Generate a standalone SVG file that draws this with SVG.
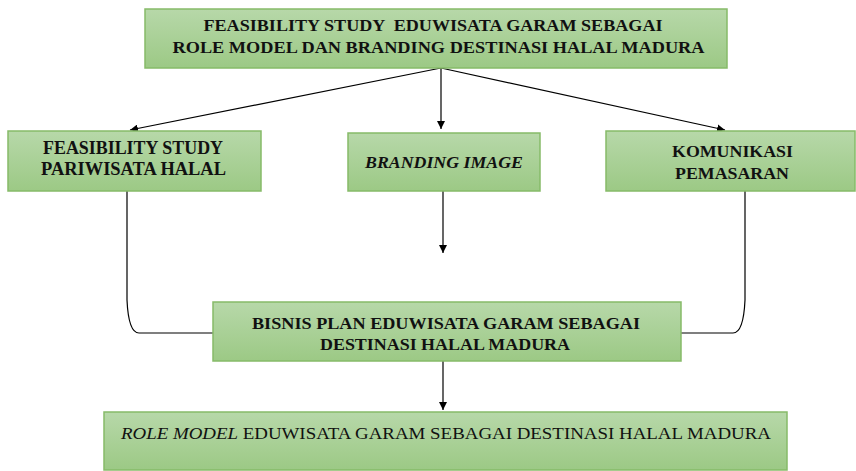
<svg xmlns="http://www.w3.org/2000/svg" width="856" height="471" viewBox="0 0 856 471">
<defs>
<linearGradient id="g" x1="0" y1="0" x2="0" y2="1">
<stop offset="0" stop-color="#b7d8a9"/>
<stop offset="1" stop-color="#9cc985"/>
</linearGradient>
<marker id="ah" viewBox="0 0 10 10" refX="10" refY="5" markerWidth="8" markerHeight="8" markerUnits="userSpaceOnUse" orient="auto">
<path d="M0,0 L10,5 L0,10 z" fill="#000"/>
</marker>
<style>
.box{fill:url(#g);stroke:#86bb68;stroke-width:1.5}
.t{font-family:"Liberation Serif","Times New Roman",serif;font-weight:bold;fill:#111;text-anchor:middle}
.r{font-weight:normal}
.c{fill:none;stroke:#000;stroke-width:1.2}
</style>
</defs>
<g id="connectors">
<path class="c" d="M441,68 L130,130" marker-end="url(#ah)"/>
<path class="c" d="M441,68 L441,129" marker-end="url(#ah)"/>
<path class="c" d="M441,68 L725,130" marker-end="url(#ah)"/>
<path class="c" d="M443,191 L443,253" marker-end="url(#ah)"/>
<path class="c" d="M127,191 L127,300 Q128.5,333 139,333 L213,333"/>
<path class="c" d="M745,191 L745,300 Q743.5,333 733,333 L681,333"/>
<path class="c" d="M443,360 L443,410" marker-end="url(#ah)"/>
</g>
<g id="top">
<rect class="box" x="145" y="9" width="582" height="59"/>
<text class="t" font-size="17.5" x="433" y="31" textLength="459" lengthAdjust="spacingAndGlyphs" xml:space="preserve">FEASIBILITY STUDY  EDUWISATA GARAM SEBAGAI</text>
<text class="t" font-size="17.5" x="438.5" y="53" textLength="532" lengthAdjust="spacingAndGlyphs">ROLE MODEL DAN BRANDING DESTINASI HALAL MADURA</text>
</g>
<g id="feasibility">
<rect class="box" x="8" y="131" width="253" height="60"/>
<text class="t" font-size="18" x="133" y="154" textLength="180" lengthAdjust="spacingAndGlyphs">FEASIBILITY STUDY</text>
<text class="t" font-size="18" x="133.5" y="175" textLength="185" lengthAdjust="spacingAndGlyphs">PARIWISATA HALAL</text>
</g>
<g id="branding">
<rect class="box" x="348" y="133" width="192" height="58"/>
<text class="t" font-size="17.5" font-style="italic" x="444" y="168" textLength="158" lengthAdjust="spacingAndGlyphs">BRANDING IMAGE</text>
</g>
<g id="komunikasi">
<rect class="box" x="606" y="131" width="249" height="60"/>
<text class="t" font-size="17.5" x="732.5" y="157" textLength="121" lengthAdjust="spacingAndGlyphs">KOMUNIKASI</text>
<text class="t" font-size="17.5" x="732" y="179" textLength="114" lengthAdjust="spacingAndGlyphs">PEMASARAN</text>
</g>
<g id="bisnis">
<rect class="box" x="213" y="302" width="468" height="59"/>
<text class="t" font-size="17.5" x="446" y="329" textLength="388" lengthAdjust="spacingAndGlyphs">BISNIS PLAN EDUWISATA GARAM SEBAGAI</text>
<text class="t" font-size="17.5" x="445" y="350" textLength="250" lengthAdjust="spacingAndGlyphs">DESTINASI HALAL MADURA</text>
</g>
<g id="rolemodel">
<rect class="box" x="104" y="412" width="683" height="58"/>
<text class="t r" font-size="17.5" x="446" y="439" textLength="650" lengthAdjust="spacingAndGlyphs"><tspan font-style="italic">ROLE MODEL</tspan> EDUWISATA GARAM SEBAGAI DESTINASI HALAL MADURA</text>
</g>
</svg>
